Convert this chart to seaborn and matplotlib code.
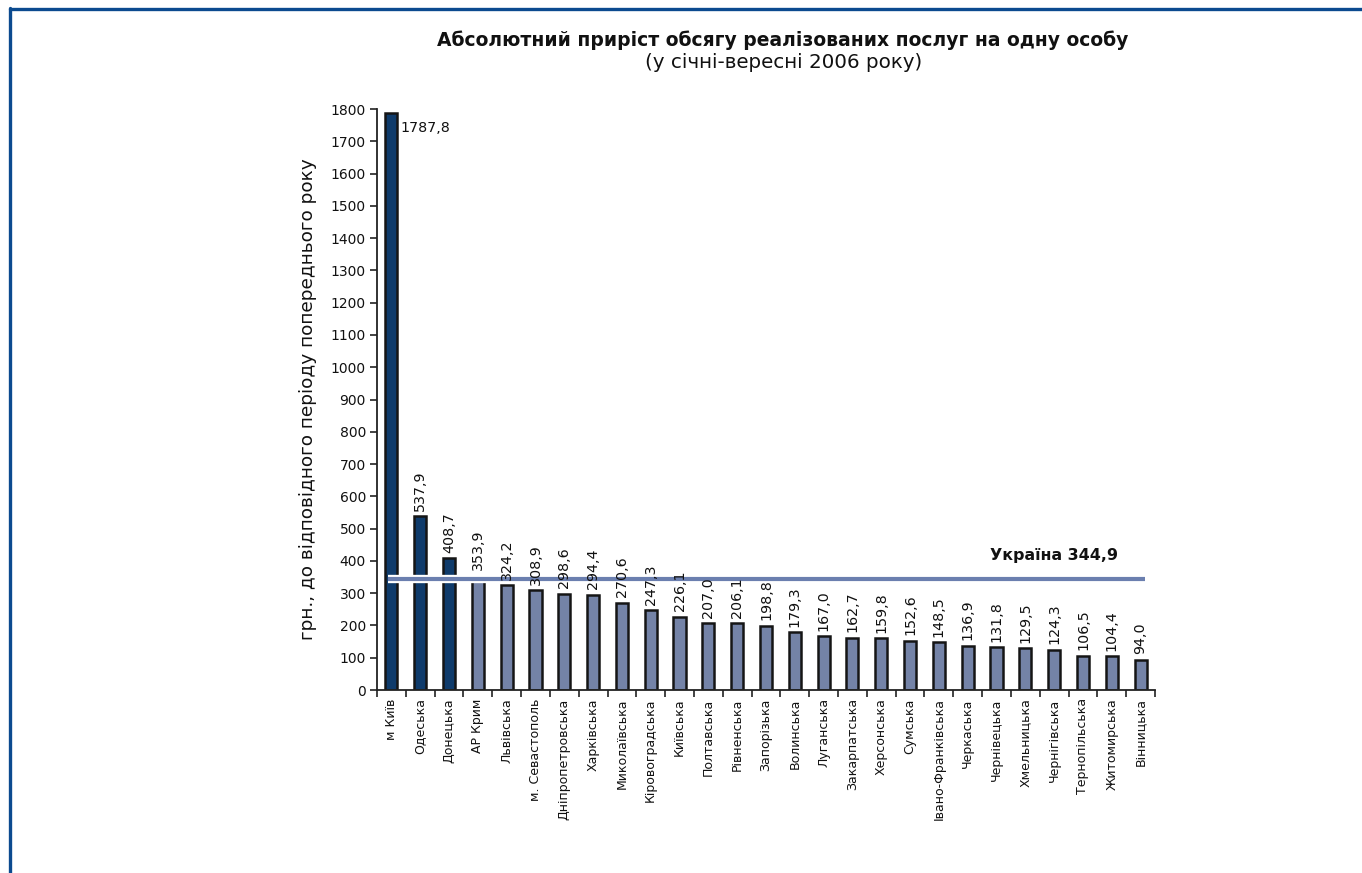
import matplotlib
matplotlib.use("Agg")
import matplotlib.pyplot as plt
import matplotlib.patheffects as pe
from matplotlib.lines import Line2D
import seaborn as sns
import pandas as pd

regions = ["м Київ", "Одеська", "Донецька", "АР Крим", "Львівська", "м. Севастополь",
           "Дніпропетровська", "Харківська", "Миколаївська", "Кіровоградська", "Київська",
           "Полтавська", "Рівненська", "Запорізька", "Волинська", "Луганська",
           "Закарпатська", "Херсонська", "Сумська", "Івано-Франківська", "Черкаська",
           "Чернівецька", "Хмельницька", "Чернігівська", "Тернопільська", "Житомирська",
           "Вінницька"]
values = [1787.8, 537.9, 408.7, 353.9, 324.2, 308.9, 298.6, 294.4, 270.6, 247.3, 226.1,
          207.0, 206.1, 198.8, 179.3, 167.0, 162.7, 159.8, 152.6, 148.5, 136.9, 131.8,
          129.5, 124.3, 106.5, 104.4, 94.0]
groups = ["top"] * 3 + ["rest"] * 24
ukraine = 344.9
yticks = list(range(0, 1801, 100))

title = "Абсолютний приріст обсягу реалізованих послуг на одну особу"
subtitle = "(у січні-вересні 2006 року)"
ylabel = "грн., до відповідного періоду попереднього року"
ukr_label = "Україна 344,9"

DARK = "#003A7A"
LIGHT = "#6B7FAF"
FRAME = "#0B4A8F"
INK = "#111111"

df = pd.DataFrame({"region": regions, "value": values, "grp": groups})

sns.set_theme(style="white")
plt.rcParams["font.family"] = ["DejaVu Sans"]
plt.rcParams["text.color"] = INK
plt.rcParams["axes.labelcolor"] = INK
plt.rcParams["xtick.color"] = INK
plt.rcParams["ytick.color"] = INK

fig = plt.figure(figsize=(13.62, 8.73), dpi=100)
ax = fig.add_axes([0.2768, 0.2096, 0.8480 - 0.2768, 0.8751 - 0.2096])

sns.barplot(data=df, x="region", y="value", hue="grp",
            palette={"top": DARK, "rest": LIGHT}, dodge=False, width=0.42,
            edgecolor="#151515", linewidth=1.8, legend=False, ax=ax, zorder=2)

ax.set_xlim(-0.5, len(regions) - 0.5)
ax.set_ylim(0, 1800)
ax.set_yticks(yticks)
ax.set_yticklabels([str(t) for t in yticks], fontsize=10)
ax.set_xticks(range(len(regions)))
ax.set_xticklabels(regions, rotation=90, fontsize=9)
ax.tick_params(axis="x", length=0, pad=6)
ax.tick_params(axis="y", length=5, width=1.2, color="#222222", direction="out", left=True, pad=3)
ax.set_xticks([i - 0.5 for i in range(len(regions) + 1)], minor=True)
ax.tick_params(axis="x", which="minor", length=5, width=1.2, color="#222222", direction="out", bottom=True)

for s in ["top", "right"]:
    ax.spines[s].set_visible(False)
for s in ["left", "bottom"]:
    ax.spines[s].set_color("#222222")
    ax.spines[s].set_linewidth(1.3)

ax.set_xlabel("")
ax.set_ylabel(ylabel, fontsize=13.3, labelpad=10)

# value labels
for i, v in enumerate(values):
    lab = f"{v:.1f}".replace(".", ",")
    if i == 0:
        ax.annotate(lab, (i + 0.21, v), xytext=(2, -6), textcoords="offset points",
                    ha="left", va="top", fontsize=10.3, zorder=5)
    else:
        ax.annotate(lab, (i, v), xytext=(0, 4), textcoords="offset points",
                    ha="center", va="bottom", rotation=90, fontsize=10.3, zorder=5)

# Ukraine average line
ax.plot([-0.12, len(regions) - 0.83], [ukraine, ukraine], color=LIGHT, lw=3,
        solid_capstyle="butt", zorder=3,
        path_effects=[pe.Stroke(linewidth=6, foreground="white"), pe.Normal()])
ax.annotate(ukr_label, (len(regions) - 1.8, ukraine), xytext=(0, 11), textcoords="offset points",
            ha="right", va="bottom", fontsize=11.4, fontweight="bold", zorder=5)

fig.text(0.575, 0.954, title, ha="center", va="center", fontsize=13.5, fontweight="bold")
fig.text(0.575, 0.928, subtitle, ha="center", va="center", fontsize=14.3)

# frame
fig.add_artist(Line2D([0.007, 1.0], [0.9892, 0.9892], color=FRAME, lw=2.4, transform=fig.transFigure))
fig.add_artist(Line2D([0.0073, 0.0073], [0.0, 0.9905], color=FRAME, lw=2.4, transform=fig.transFigure))

fig.savefig("out.png", dpi=100)
